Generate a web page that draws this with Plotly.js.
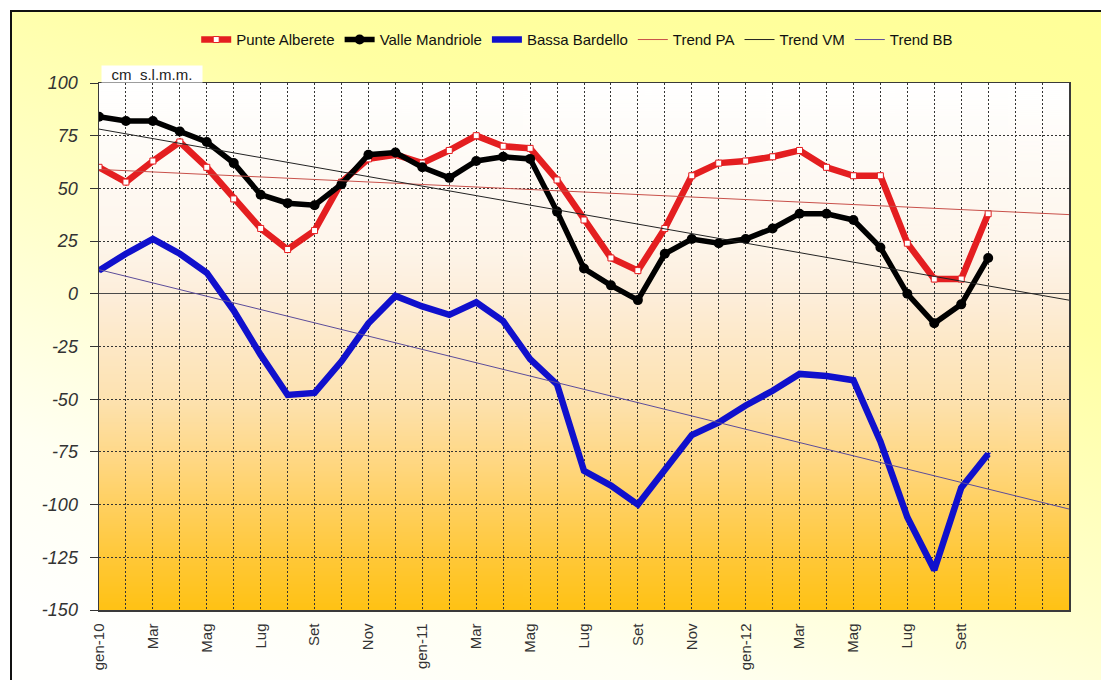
<!DOCTYPE html>
<html>
<head>
<meta charset="utf-8">
<script src="https://cdn.plot.ly/plotly-3.0.1.min.js"></script>
<style>
  html, body { margin: 0; padding: 0; background: #ffffff; }
  #wrap { position: relative; width: 1101px; height: 680px; overflow: hidden; background: #ffffff; }
  #panel {
    position: absolute; left: 10px; top: 10px; width: 1110px; height: 700px;
    border-left: 2px solid #111; border-top: 2px solid #111;
    background: linear-gradient(200deg, #FFFF98 0%, #FFFFA2 30%, #FFFFCC 55%, #FFFFF2 75%, #FFFFFD 90%);
  }
  #chart { position: absolute; left: 0; top: 0; width: 1101px; height: 680px; }
  #chart .ytick text { font-style: italic !important; }
</style>
</head>
<body>
<div id="wrap">
  <div id="panel"></div>
  <div id="chart"></div>
</div>
<script>
// Monthly water levels (cm s.l.m.m.), January 2010 - October 2012
const months = [
  'gen-10','feb-10','mar-10','apr-10','mag-10','giu-10','lug-10','ago-10','set-10','ott-10','nov-10','dic-10',
  'gen-11','feb-11','mar-11','apr-11','mag-11','giu-11','lug-11','ago-11','set-11','ott-11','nov-11','dic-11',
  'gen-12','feb-12','mar-12','apr-12','mag-12','giu-12','lug-12','ago-12','set-12','ott-12','nov-12','dic-12','gen-13'
];

const tickLabels = [
  'gen-10','','Mar','','Mag','','Lug','','Set','','Nov','',
  'gen-11','','Mar','','Mag','','Lug','','Set','','Nov','',
  'gen-12','','Mar','','Mag','','Lug','','Sett','','','',''
];

const punteAlberete = [60, 53, 63, 72, 60, 45, 31, 21, 30, 53, 64, 66,
                       62, 68, 75, 70, 69, 54, 35, 17, 11, 31, 56, 62,
                       63, 65, 68, 60, 56, 56, 24, 7, 7, 38];

const valleMandriole = [84, 82, 82, 77, 72, 62, 47, 43, 42, 52, 66, 67,
                        60, 55, 63, 65, 64, 39, 12, 4, -3, 19, 26, 24,
                        26, 31, 38, 38, 35, 22, 0, -14, -5, 17];

const bassaBardello = [11, 19, 26, 19, 10, -8, -29, -48, -47, -32, -14, -1,
                       -6, -10, -4, -13, -31, -43, -84, -91, -100, -84, -67, -61,
                       -53, -46, -38, -39, -41, -70, -106, -131, -92, -76];

const yTicks = [100, 75, 50, 25, 0, -25, -50, -75, -100, -125, -150];
const yTickLabels = ['100', '75', '50', '25', '0', '-25', '-50', '-75', '-100', '-125', '-150'];

// month position on the axis
const monthPos = months.map((m, i) => i);

// least-squares linear trend, extended to the end of the axis
function trend(values) {
  const xs = values.map((v, i) => monthPos[i]);
  const n = values.length;
  const mx = xs.reduce((a, b) => a + b, 0) / n;
  const my = values.reduce((a, b) => a + b, 0) / n;
  let sxy = 0, sxx = 0;
  for (let i = 0; i < n; i++) { sxy += (xs[i] - mx) * (values[i] - my); sxx += (xs[i] - mx) * (xs[i] - mx); }
  const b = sxy / sxx, a = my - b * mx;
  const x0 = monthPos[0], x1 = monthPos[monthPos.length - 1];
  return { x: [x0, x1], y: [a + b * x0, a + b * x1] };
}

const xData = monthPos.slice(0, punteAlberete.length);
const tPA = trend(punteAlberete), tVM = trend(valleMandriole), tBB = trend(bassaBardello);

const traces = [
  { name: 'Punte Alberete', x: xData, y: punteAlberete, mode: 'lines+markers',
    line: { color: '#E41E20', width: 6.5 },
    marker: { symbol: 'square', size: 6, color: '#FFFFFF', line: { color: '#E41E20', width: 1 } } },
  { name: 'Valle Mandriole', x: xData, y: valleMandriole, mode: 'lines+markers',
    line: { color: '#000000', width: 5.5 },
    marker: { symbol: 'circle', size: 10, color: '#000000' } },
  { name: 'Bassa Bardello', x: xData, y: bassaBardello, mode: 'lines+markers',
    line: { color: '#1010CC', width: 6.5 },
    marker: { symbol: 'triangle-down', size: 5, color: '#1010CC' } },
  { name: 'Trend PA', x: tPA.x, y: tPA.y, mode: 'lines', line: { color: '#C8504A', width: 1 } },
  { name: 'Trend VM', x: tVM.x, y: tVM.y, mode: 'lines', line: { color: '#222222', width: 1 } },
  { name: 'Trend BB', x: tBB.x, y: tBB.y, mode: 'lines', line: { color: '#5C4C9A', width: 1 } }
];

// vertical white-to-gold fill behind the plot area
function plotBackground() {
  const c = document.createElement('canvas');
  c.width = 8; c.height = 528;
  const g = c.getContext('2d');
  const grd = g.createLinearGradient(0, 0, 0, 528);
  grd.addColorStop(0.00, '#FFFFFF');
  grd.addColorStop(0.30, '#FEF6EC');
  grd.addColorStop(0.40, '#FDEEDB');
  grd.addColorStop(0.60, '#FDE2B0');
  grd.addColorStop(0.70, '#FFD98A');
  grd.addColorStop(0.80, '#FFD060');
  grd.addColorStop(0.90, '#FFC838');
  grd.addColorStop(1.00, '#FFC214');
  g.fillStyle = grd;
  g.fillRect(0, 0, 8, 528);
  return c.toDataURL('image/png');
}

const gridDash = '2px,2px';

const layout = {
  width: 1101, height: 680,
  margin: { l: 99, r: 32, t: 83, b: 70 },
  paper_bgcolor: 'rgba(0,0,0,0)',
  plot_bgcolor: 'rgba(0,0,0,0)',
  showlegend: true,
  legend: {
    orientation: 'h', x: 0.493, xanchor: 'center', y: 1.082, yanchor: 'middle',
    bgcolor: 'rgba(0,0,0,0)',
    font: { family: 'Liberation Sans, Arial, sans-serif', size: 15, color: '#111' },
    itemwidth: 30, traceorder: 'normal'
  },
  xaxis: {
    range: [0, 36],
    tickmode: 'array', tickvals: monthPos, ticktext: tickLabels,
    tickangle: -90,
    tickfont: { family: 'Liberation Sans, Arial, sans-serif', size: 15, color: '#333' },
    ticks: '', ticklabelstandoff: 6,
    showgrid: true, gridcolor: '#333333', gridwidth: 1, griddash: gridDash,
    showline: true, linecolor: '#3a3a3a', linewidth: 1.5, mirror: true,
    zeroline: false, fixedrange: true
  },
  yaxis: {
    range: [-150, 100],
    tickmode: 'array', tickvals: yTicks, ticktext: yTickLabels,
    tickfont: { family: 'Liberation Sans, Arial, sans-serif', size: 18, color: '#333', style: 'italic' },
    ticks: 'outside', ticklen: 8, tickcolor: '#333', tickwidth: 1, ticklabelstandoff: 8,
    showgrid: true, gridcolor: '#333333', gridwidth: 1, griddash: gridDash,
    showline: true, linecolor: '#3a3a3a', linewidth: 1.5, mirror: true,
    zeroline: true, zerolinecolor: '#4a4a4a', zerolinewidth: 1.2,
    fixedrange: true
  },
  images: [{
    source: plotBackground(), xref: 'paper', yref: 'paper',
    x: 0, y: 1, sizex: 1, sizey: 1, sizing: 'stretch', layer: 'below', xanchor: 'left', yanchor: 'top'
  }],
  annotations: [{
    text: 'cm  s.l.m.m.', xref: 'paper', yref: 'paper', x: 0.002, y: 1.0,
    xanchor: 'left', yanchor: 'bottom', showarrow: false,
    bgcolor: '#FFFFFF', width: 100, height: 16, align: 'center', borderpad: 0,
    font: { family: 'Liberation Sans, Arial, sans-serif', size: 15, color: '#222' }
  }]
};

function slantYLabels(gd) {
  gd.querySelectorAll('.ytick text').forEach(function (t) {
    t.setAttribute('font-style', 'italic');
    t.style.fontStyle = 'italic';
  });
}

Plotly.newPlot('chart', traces, layout, { staticPlot: true, displayModeBar: false }).then(function (gd) {
  slantYLabels(gd);
  gd.on('plotly_afterplot', function () { slantYLabels(gd); });
  setTimeout(function () { slantYLabels(gd); }, 50);
});
</script>
</body>
</html>
